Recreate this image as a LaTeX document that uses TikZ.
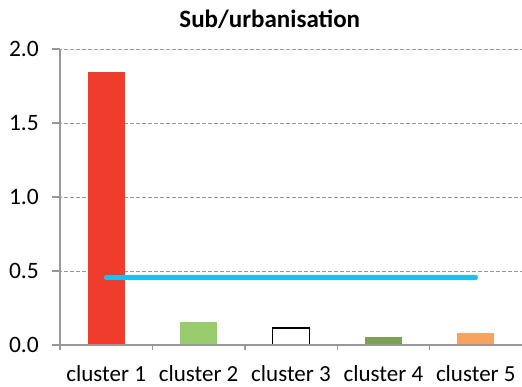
\documentclass[tikz,border=0pt]{standalone}
\usepackage{fontspec}
\setmainfont{Carlito}
\usetikzlibrary{positioning}

\definecolor{barred}{RGB}{240,60,44}
\definecolor{barlime}{RGB}{152,203,110}
\definecolor{barolive}{RGB}{125,160,86}
\definecolor{barorange}{RGB}{247,162,94}
\definecolor{meanblue}{RGB}{30,190,238}
\definecolor{axisgray}{RGB}{150,150,155}

\begin{document}
\begin{tikzpicture}[
    x=92.4pt, y=148pt,
    gridline/.style={
        draw=axisgray,
        line width=0.9pt,
        dash pattern=on 4pt off 2pt
    },
    axisline/.style={
        draw=axisgray,
        line width=1.4pt
    },
    ticklabel/.style={
        font=\fontsize{23.5}{26}\selectfont,
        anchor=east,
        inner sep=0pt
    },
    catlabel/.style={
        font=\fontsize{23}{26}\selectfont,
        anchor=base,
        inner sep=0pt
    },
    charttitle/.style={
        font=\fontsize{25}{28}\selectfont\bfseries,
        inner sep=0pt
    },
    meanline/.style={
        draw=meanblue,
        line width=4.6pt,
        line cap=round
    }
]

% Canvas
\useasboundingbox ([shift={(-60pt,-42pt)}]0,0) rectangle ([shift={(462pt,345pt)}]0,0);

% Grid lines and y labels
\foreach \v in {0.5,1.0,1.5,2.0} {
    \draw[gridline] ([xshift=-8pt]0,\v) -- ([xshift=462pt]0,\v);
    \draw[axisline] ([xshift=-8pt]0,\v) -- (0,\v);
}
\foreach \v/\name in {0.0/ya, 0.5/yb, 1.0/yc, 1.5/yd, 2.0/ye}
    \node[ticklabel] (\name) at ([xshift=-21pt]0,\v) {\v};

% Bars
\fill[barred] (0.3,0) rectangle (0.7,1.845);
\fill[barlime] (1.3,0) rectangle (1.7,0.155);
\draw[black, line width=1.3pt] (2.3,0) rectangle (2.7,0.115);
\fill[barolive] (3.3,0) rectangle (3.7,0.054);
\fill[barorange] (4.3,0) rectangle (4.7,0.081);

% Axes
\draw[axisline] ([xshift=-8pt]0,0) -- ([xshift=462pt]0,0);
\draw[axisline] ([yshift=-5pt]0,0) -- (0,2.0);
\foreach \i in {1,...,4}
    \draw[axisline] ([yshift=-5pt]\i,0) -- (\i,0);

% Category labels
\foreach \i in {1,...,5}
    \node[catlabel] (cat\i) at ([yshift=-37pt]\i-0.5,0) {cluster \i};

% Mean line
\coordinate (meanstart) at (0.5,0.455);
\coordinate (meanend) at (4.5,0.455);
\draw[meanline] (meanstart) -- (meanend);

% Title
\node[charttitle] (title) at (2.27,2.2) {Sub/urbanisation};

\end{tikzpicture}
\end{document}
